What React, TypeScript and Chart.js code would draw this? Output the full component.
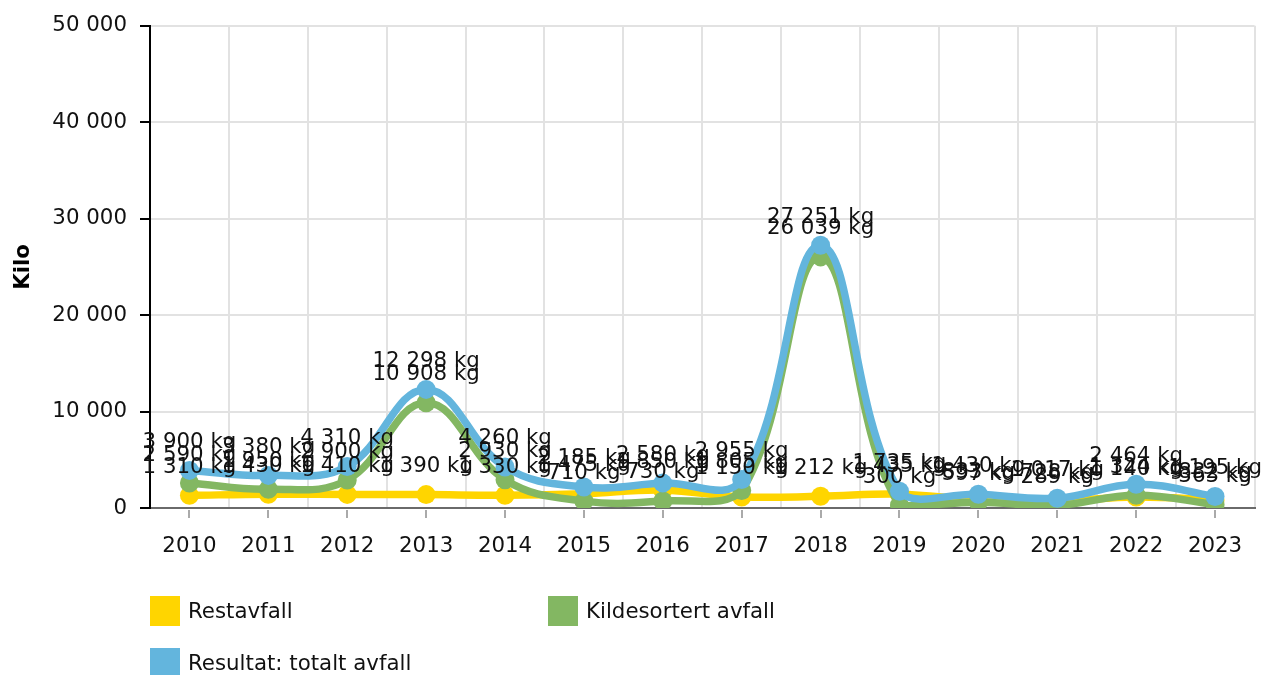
import React, { useEffect, useRef } from "react";
import { Chart, registerables } from "chart.js";

Chart.register(...registerables);

const years = ["2010","2011","2012","2013","2014","2015","2016","2017","2018","2019","2020","2021","2022","2023"];
const restavfall = [1310, 1430, 1410, 1390, 1330, 1475, 1850, 1150, 1212, 1435, 833, 728, 1140, 832];
const kildesortert = [2590, 1950, 2900, 10908, 2930, 710, 730, 1805, 26039, 300, 597, 289, 1324, 363];
const totalt = [3900, 3380, 4310, 12298, 4260, 2185, 2580, 2955, 27251, 1735, 1430, 1017, 2464, 1195];

const seriesNames = ["Restavfall", "Kildesortert avfall", "Resultat: totalt avfall"];
const seriesColors = ["#FFD500", "#83B762", "#63B5DD"];
const yTicks = [0, 10000, 20000, 30000, 40000, 50000];

const FONT = "'DejaVu Sans', Verdana, sans-serif";
const FS = 21.33;

function fmt(n: number): string {
  return String(n).replace(/\B(?=(\d{3})+(?!\d))/g, " ");
}

const extras = {
  id: "extras",
  afterDatasetsDraw(chart: any) {
    const ctx = chart.ctx;
    const xs = chart.scales.x;
    const area = chart.chartArea;
    ctx.save();
    // x tick marks at category centers
    ctx.strokeStyle = "#aaaaaa";
    ctx.lineWidth = 2;
    for (let i = 0; i < years.length; i++) {
      const x = Math.round(xs.getPixelForValue(i));
      ctx.beginPath();
      ctx.moveTo(x, area.bottom + 2);
      ctx.lineTo(x, area.bottom + 10);
      ctx.stroke();
    }
    // data labels
    ctx.fillStyle = "#111";
    ctx.font = `${FS}px ${FONT}`;
    ctx.textAlign = "center";
    ctx.textBaseline = "middle";
    [0, 1, 2].forEach((di) => {
      const meta = chart.getDatasetMeta(di);
      const vals = chart.data.datasets[di].data as number[];
      meta.data.forEach((pt: any, i: number) => {
        ctx.fillText(fmt(vals[i]) + " kg", pt.x, pt.y - 28);
      });
    });
    // legend
    const items = [
      { x: 150, y: 596 },
      { x: 548, y: 596 },
      { x: 150, y: 648 },
    ];
    ctx.textAlign = "left";
    items.forEach((it, i) => {
      ctx.fillStyle = seriesColors[i];
      ctx.fillRect(it.x, it.y, 30, 30);
      ctx.fillStyle = "#111";
      ctx.fillText(seriesNames[i], it.x + 38, it.y + 16);
    });
    ctx.restore();
  },
};

export default function App() {
  const ref = useRef<HTMLCanvasElement>(null);
  useEffect(() => {
    if (!ref.current) return;
    const values = [restavfall, kildesortert, totalt];
    const chart = new Chart(ref.current, {
      type: "line",
      data: {
        labels: years,
        datasets: values.map((v, i) => ({
          label: seriesNames[i],
          data: v,
          borderColor: seriesColors[i],
          backgroundColor: seriesColors[i],
          pointBackgroundColor: seriesColors[i],
          pointBorderColor: seriesColors[i],
          borderWidth: 7.5,
          pointRadius: 9.5,
          pointBorderWidth: 0,
          tension: 0.4,
          fill: false,
          order: 2 - i,
        })),
      },
      options: {
        responsive: false,
        animation: false,
        layout: { padding: { top: 25, right: 8, left: 0, bottom: 0 } },
        plugins: {
          legend: { display: false },
          tooltip: { enabled: false },
        },
        scales: {
          x: {
            type: "category",
            offset: true,
            grid: { offset: true, drawTicks: false, color: "#e2e2e2", lineWidth: 2 },
            border: { color: "#6a6a6a", width: 2 },
            ticks: { color: "#111", font: { family: FONT, size: FS }, padding: 26, maxRotation: 0 },
            afterFit: (s: any) => { s.height = 167; s.paddingLeft = 0; s.paddingRight = 0; },
          },
          y: {
            min: 0,
            max: 50000,
            afterBuildTicks: (s: any) => { s.ticks = yTicks.map((v) => ({ value: v })); },
            grid: { color: "#e2e2e2", lineWidth: 2, tickColor: "#000", tickLength: 10, tickWidth: 2 },
            border: { color: "#000", width: 2 },
            ticks: {
              color: "#111",
              font: { family: FONT, size: FS },
              padding: 13,
              callback: (v: any) => fmt(Number(v)),
            },
            title: {
              display: true,
              text: "Kilo",
              color: "#000",
              font: { family: FONT, size: FS, weight: "bold" },
              padding: { top: 11, bottom: 0 },
            },
            afterFit: (s: any) => { s.width = 150; },
          },
        },
      },
      plugins: [extras],
    });
    return () => chart.destroy();
  }, []);
  return (
    <div style={{ position: "fixed", left: 0, top: 0, width: 1264, height: 675, background: "#fff" }}>
      <canvas ref={ref} width={1264} height={675} style={{ display: "block" }} />
    </div>
  );
}
